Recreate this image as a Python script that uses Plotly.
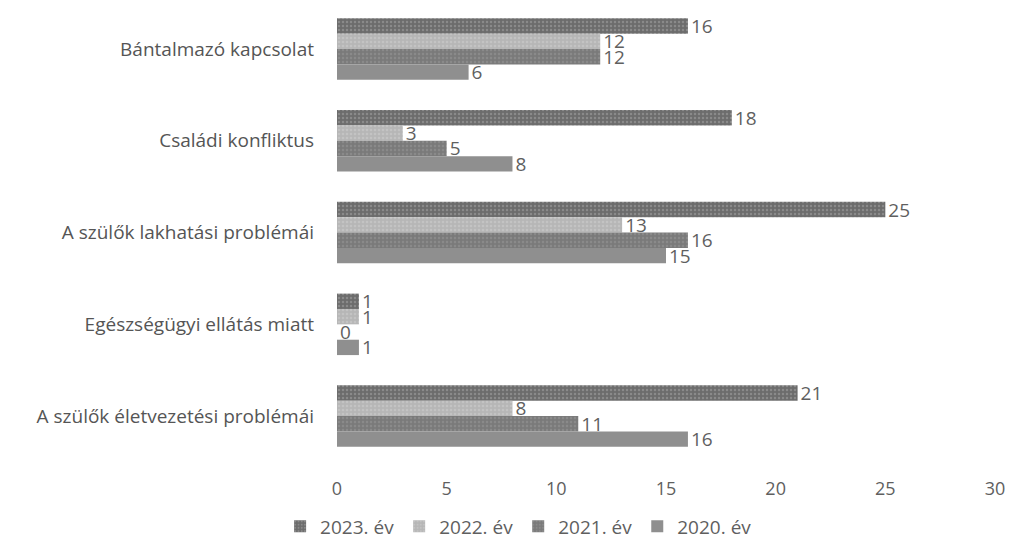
import plotly.graph_objects as go

categories = ["Bántalmazó kapcsolat", "Családi konfliktus", "A szülők lakhatási problémái",
              "Egészségügyi ellátás miatt", "A szülők életvezetési problémái"]
series_names = ["2023. év", "2022. év", "2021. év", "2020. év"]
v2023 = [16, 18, 25, 1, 21]
v2022 = [12, 3, 13, 1, 8]
v2021 = [12, 5, 16, 0, 11]
v2020 = [6, 8, 15, 1, 16]
values = [v2023, v2022, v2021, v2020]
x_ticks = [0, 5, 10, 15, 20, 25, 30]

colors = ["#6c6c6c", "#b6b6b6", "#7a7a7a", "#8f8f8f"]
pat_fg = ["#a8a8a8", "#d0d0d0", "#9a9a9a", "#9c9c9c"]
pat_shape = [".", ".", ".", ""]

fig = go.Figure()
for name, vals, c, fg, sh in zip(series_names, values, colors, pat_fg, pat_shape):
    fig.add_trace(go.Bar(
        y=categories, x=vals, name=name, orientation="h",
        marker=dict(color=c, line=dict(width=0),
                    pattern=dict(shape=sh, fgcolor=fg, size=4, solidity=0.3)),
        text=[str(v) for v in vals], textposition="outside", constraintext="none",
        textfont=dict(size=19, color="#5f5f5f", family="Open Sans"),
        cliponaxis=False,
    ))

fig.update_layout(
    width=999, height=541,
    barmode="group", bargap=0.33, bargroupgap=0,
    plot_bgcolor="white", paper_bgcolor="white",
    margin=dict(l=329, r=12, t=0, b=87),
    font=dict(family="Open Sans", color="#555555"),
    xaxis=dict(range=[0, 30], tickvals=x_ticks, showgrid=False, zeroline=False,
               showline=False, tickfont=dict(size=18, color="#5f5f5f"),
               ticklabelstandoff=14, automargin=False, ticklabeloverflow="allow"),
    yaxis=dict(range=[4.5, -0.447], showgrid=False, showline=False, ticks="",
               tickfont=dict(size=19, color="#555555"), ticklabelstandoff=22,
               automargin=False),
    legend=dict(orientation="h", x=0.276, xanchor="center", y=-0.1, yanchor="top",
                font=dict(size=19, color="#5f5f5f"),
                traceorder="normal"),
    showlegend=True,
)
fig.write_html("out.html")
